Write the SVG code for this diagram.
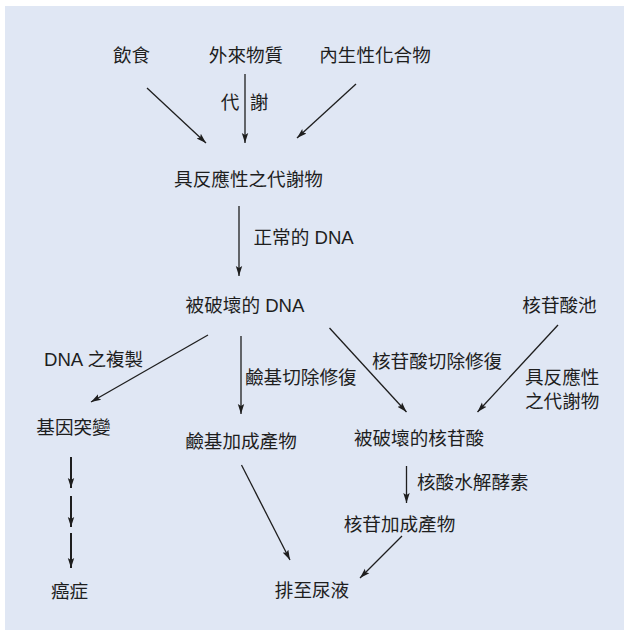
<svg xmlns="http://www.w3.org/2000/svg" width="624" height="630" viewBox="0 0 624 630">
<defs>
<marker id="ah" markerUnits="userSpaceOnUse" markerWidth="10" markerHeight="8" refX="10" refY="4" orient="auto">
<path d="M0,0.8 L10,4 L0,7.2 L2,4 z" fill="#1e1e1e"/>
</marker>
<style>
text{font-family:"Liberation Sans","Noto Sans CJK TC","Noto Sans CJK SC",sans-serif;font-size:18.6px;fill:#1e1e1e}
.m{text-anchor:middle}
.c line{stroke:#1e1e1e;stroke-width:1.3;marker-end:url(#ah)}
.c line.t{stroke-width:2}
</style>
</defs>
<rect x="5" y="6" width="619" height="624" fill="#e0e7f4"/>
<g class="c" id="connectors">
<line x1="147" y1="88" x2="206" y2="143"/>
<line x1="245" y1="74" x2="245" y2="143"/>
<line x1="356" y1="84" x2="297" y2="138"/>
<line x1="239" y1="206" x2="239" y2="276"/>
<line x1="208" y1="335" x2="91" y2="402"/>
<line x1="241" y1="336" x2="241" y2="414"/>
<line x1="329.5" y1="328" x2="406.5" y2="412"/>
<line x1="558" y1="325" x2="477.5" y2="412"/>
<line class="t" x1="71" y1="457" x2="71" y2="488"/>
<line class="t" x1="71" y1="496" x2="71" y2="527"/>
<line class="t" x1="71" y1="533" x2="71" y2="568"/>
<line x1="241.5" y1="465" x2="290" y2="560"/>
<line x1="406.5" y1="466" x2="406.5" y2="503"/>
<line x1="402" y1="536" x2="360" y2="578"/>
</g>
<g id="label-metab"><text x="230" y="108.5" class="m">代</text><text x="259" y="108.5" class="m">謝</text></g>
<g id="label-normal"><text x="253.5" y="243.5">正常的 DNA</text></g>
<g id="label-repl"><text x="44" y="365.5">DNA 之複製</text></g>
<g id="label-ber"><text x="245" y="383.5">鹼基切除修復</text></g>
<g id="label-ner"><text x="372" y="368">核苷酸切除修復</text></g>
<g id="label-react"><text x="525" y="383.5">具反應性</text><text x="525" y="407.5">之代謝物</text></g>
<g id="label-nuclease"><text x="417" y="488.5">核酸水解酵素</text></g>
<g id="n-diet"><text x="131.5" y="62" class="m">飲食</text></g>
<g id="n-xeno"><text x="246" y="62" class="m">外來物質</text></g>
<g id="n-endo"><text x="375" y="62" class="m">內生性化合物</text></g>
<g id="n-reactive"><text x="248.5" y="185.5" class="m">具反應性之代謝物</text></g>
<g id="n-damaged-dna"><text x="245" y="312" class="m">被破壞的 DNA</text></g>
<g id="n-pool"><text x="559.5" y="312" class="m">核苷酸池</text></g>
<g id="n-mutation"><text x="73.5" y="433.5" class="m">基因突變</text></g>
<g id="n-base-adduct"><text x="241" y="448" class="m">鹼基加成產物</text></g>
<g id="n-damaged-nuc"><text x="419" y="444.5" class="m">被破壞的核苷酸</text></g>
<g id="n-nuc-adduct"><text x="399.5" y="530.5" class="m">核苷加成產物</text></g>
<g id="n-urine"><text x="312" y="597" class="m">排至尿液</text></g>
<g id="n-cancer"><text x="69.5" y="598" class="m">癌症</text></g>
</svg>
